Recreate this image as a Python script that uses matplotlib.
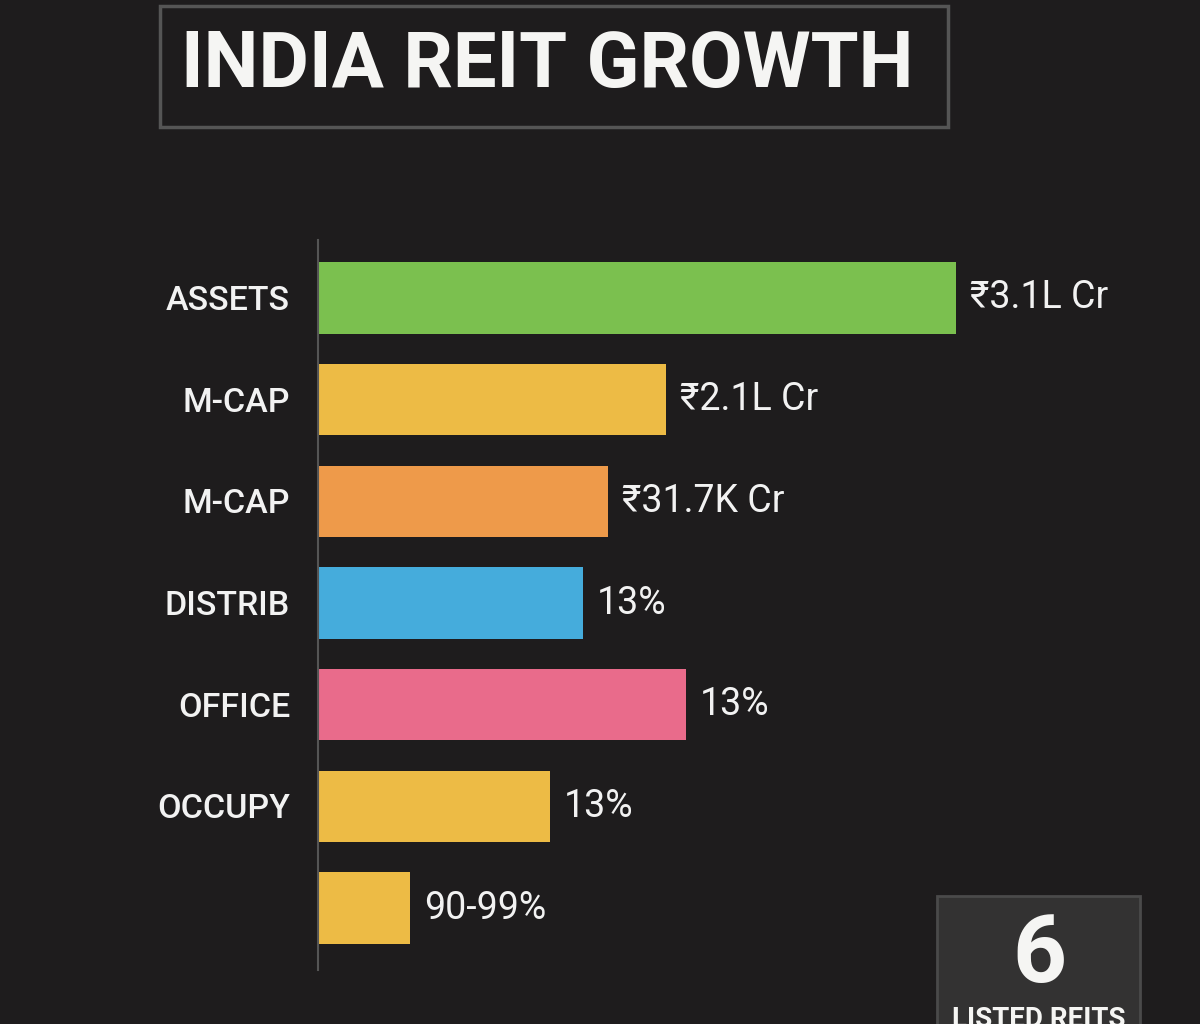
import numpy as np
import matplotlib.pyplot as plt
from matplotlib.patches import Rectangle

plt.rcParams['font.family'] = ['Roboto', 'DejaVu Sans']

# data
categories = ['ASSETS', 'M-CAP', 'M-CAP', 'DISTRIB', 'OFFICE', 'OCCUPY', '']
lengths = [638, 348, 290, 265, 368, 232, 92]
value_labels = ['₹3.1L Cr', '₹2.1L Cr', '₹31.7K Cr', '13%', '13%', '13%', '90-99%']
colors = ['#7bc04f', '#edbb45', '#ee9a4a', '#45acdc', '#e96b8b', '#edbb45', '#edbb45']

bg = '#1e1c1d'
W, H = 1200, 1024
fig = plt.figure(figsize=(12, 10.24), dpi=100, facecolor=bg)

# main bar axes (pixel placement)
x0, x1 = 318, 1200
ytop, ybot = 240, 970
ax = fig.add_axes([x0 / W, 1 - ybot / H, (x1 - x0) / W, (ybot - ytop) / H])
ax.set_facecolor(bg)
step = 101.67
c0 = 298
ax.set_xlim(0, x1 - x0)
ax.set_ylim((ybot - c0) / step, (ytop - c0) / step)
y = np.arange(len(categories))
ax.barh(y, lengths, height=0.7, color=colors, zorder=2)
for i in range(len(categories)):
    ax.text(lengths[i] + 14, y[i], value_labels[i], color='#f2f2f2',
            fontsize=27, va='center', ha='left')
    ax.text(-28, y[i] + 0.03, categories[i], color='#f2f2f2', fontsize=24.5,
            va='center', ha='right', fontweight='medium')
for s in ['top', 'right', 'bottom']:
    ax.spines[s].set_visible(False)
ax.spines['left'].set_color('#555555')
ax.spines['left'].set_linewidth(1.5)
ax.set_xticks([])
ax.set_yticks([])

# title box
fig.patches.append(Rectangle((160 / W, 1 - 127 / H), 788 / W, 121 / H,
                             transform=fig.transFigure, facecolor='none',
                             edgecolor='#555555', linewidth=2.5))
fig.text(547 / W, 1 - 66 / H, 'INDIA REIT GROWTH', color='#f5f5f3',
         fontsize=56, fontweight='bold', ha='center', va='center')

# count box bottom right
fig.patches.append(Rectangle((937 / W, 1 - 1040 / H), 203 / W, 144 / H,
                             transform=fig.transFigure, facecolor='#333232',
                             edgecolor='#4a4a4a', linewidth=2))
fig.text(1039 / W, 1 - 956 / H, '6', color='#f5f5f3', fontsize=68,
         fontweight='bold', ha='center', va='center')
fig.text(1039 / W, 1 - 1006 / H, 'LISTED REITS', color='#f5f5f3', fontsize=20,
         fontweight='bold', ha='center', va='top')

plt.savefig('out.png', dpi=100, facecolor=bg)
